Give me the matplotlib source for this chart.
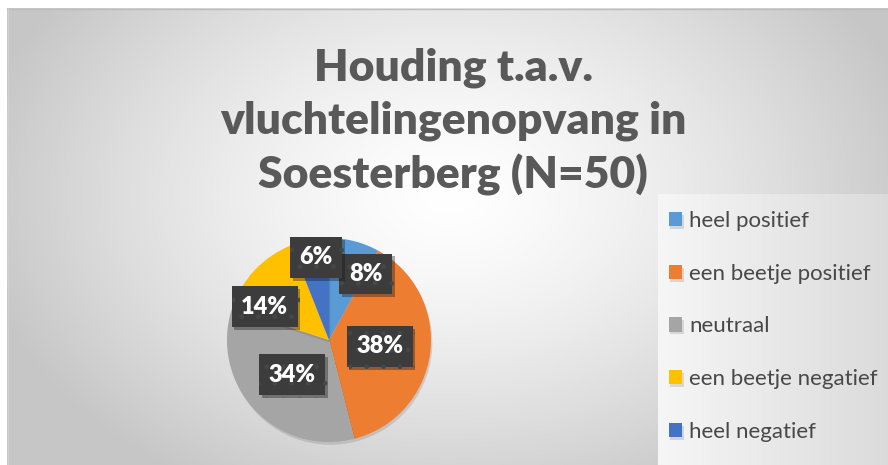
import numpy as np
import matplotlib
matplotlib.use("Agg")
import matplotlib.pyplot as plt
import matplotlib.patheffects as pe

# data
categorieen = ["heel positief", "een beetje positief", "neutraal",
               "een beetje negatief", "heel negatief"]
aantallen = [4, 19, 17, 7, 3]          # N = 50
percentages = ["8%", "38%", "34%", "14%", "6%"]
kleuren = ["#5B9BD5", "#ED7D31", "#A5A5A5", "#FFC000", "#4472C4"]
titel = "Houding t.a.v.\nvluchtelingenopvang in\nSoesterberg (N=50)"

W, H = 888, 465
fig = plt.figure(figsize=(W / 100, H / 100), dpi=100, facecolor="white")

# achtergrond met radiaal verloop
bg = fig.add_axes([0, 0, 1, 1], zorder=-10)
bg.set_xlim(0, W)
bg.set_ylim(H, 0)
bg.axis("off")
xx, yy = np.meshgrid(np.arange(W), np.arange(H))
d = np.sqrt(((xx - 445) / 480.0) ** 2 + ((yy - 190) / 340.0) ** 2)
v = 1 - 0.22 * np.clip(d, 0, 1) ** 1.4
bg.imshow(np.dstack([v, v, v]), extent=(7, W, H, 9), aspect="auto", zorder=0)
bg.plot([7, W], [9.5, 9.5], color="#bdbdbd", lw=1, zorder=1)
bg.plot([7.5, 7.5], [9, H], color="#d0d0d0", lw=1, zorder=1)

# legendavak met horizontaal verloop
lg = np.linspace(0.965, 0.86, 230)[None, :].repeat(10, axis=0)
bg.imshow(np.dstack([lg, lg, lg]), extent=(658, W, H, 194), aspect="auto", zorder=2)

# titel
fig.text(453 / W, 1 - 122 / H, titel, ha="center", va="center",
         fontsize=32, fontweight="heavy", color="#595959", family="Lato",
         linespacing=1.38)

# taartdiagram
cx, cy, r = 329, 340, 102
ax = fig.add_axes([(cx - r) / W, (H - cy - r) / H, 2 * r / W, 2 * r / H])
wedges, _ = ax.pie(aantallen, colors=kleuren, startangle=90, counterclock=False,
                   radius=1, wedgeprops=dict(linewidth=0))
ax.set_xlim(-1, 1)
ax.set_ylim(-1, 1)
ax.axis("off")
for w in wedges:
    w.set_path_effects([pe.SimplePatchShadow(offset=(1, -2), alpha=0.15), pe.Normal()])

# labels (Excel "best fit"-achtige plaatsing)
straal = [0.74, 0.5, 0.5, 0.71, 0.82]
hoek_shift = [-14.6, 0, 0, 16, -2]
for w, p, rf, dh in zip(wedges, percentages, straal, hoek_shift):
    hoek = np.deg2rad((w.theta1 + w.theta2) / 2 + dh)
    t = ax.text(rf * np.cos(hoek), rf * np.sin(hoek), p, ha="center", va="center",
                fontsize=17, fontweight="heavy", color="white", family="Lato",
                clip_on=False,
                bbox=dict(boxstyle="square,pad=0.4", facecolor="#3c3c3c",
                          edgecolor="#474747", linewidth=0, hatch="."))
    t.get_bbox_patch().set_path_effects(
        [pe.SimplePatchShadow(offset=(2, -2), alpha=0.35), pe.Normal()])

# legenda
fig.legend(wedges, categorieen, loc="upper left",
           bbox_to_anchor=(669 / W, 1 - 211 / H), frameon=False,
           prop=dict(family="Lato", size=16), labelcolor="#484848",
           handlelength=0.6, handleheight=0.6, handletextpad=0.3,
           labelspacing=1.47, borderpad=0, borderaxespad=0)

fig.savefig("out.png", dpi=100)
